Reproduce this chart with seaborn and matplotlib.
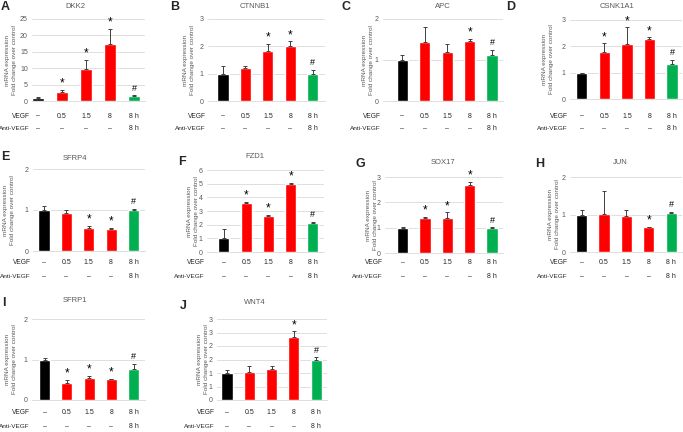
import matplotlib as mpl
mpl.use('Agg')

import matplotlib.pyplot as plt
import matplotlib.transforms as mtransforms
import seaborn as sns
import numpy as np

sns.set_style("white")
plt.rcParams['font.family'] = ['Liberation Sans', 'DejaVu Sans']

# data (fold change over control, upper error bar length)
panels = ['A', 'B', 'C', 'D', 'E', 'F', 'G', 'H', 'I', 'J']
genes = ['DKK2', 'CTNNB1', 'APC', 'CSNK1A1', 'SFRP4', 'FZD1', 'SOX17', 'JUN', 'SFRP1', 'WNT4']
conditions = ['ctrl', 'VEGF 0.5', 'VEGF 1.5', 'VEGF 8', 'VEGF+anti 8']

dkk2 = [1.0, 2.8, 9.8, 17.4, 1.5]
dkk2_err = [0.2, 0.6, 2.7, 4.6, 0.2]
ctnnb1 = [1.0, 1.2, 1.82, 2.0, 0.98]
ctnnb1_err = [0.28, 0.07, 0.26, 0.18, 0.17]
apc = [1.0, 1.43, 1.2, 1.46, 1.13]
apc_err = [0.11, 0.38, 0.18, 0.06, 0.12]
csnk1a1 = [1.0, 1.77, 2.07, 2.29, 1.32]
csnk1a1_err = [0.0, 0.34, 0.65, 0.05, 0.17]
sfrp4 = [1.0, 0.92, 0.56, 0.53, 0.99]
sfrp4_err = [0.1, 0.07, 0.06, 0.04, 0.04]
fzd1 = [1.0, 3.58, 2.66, 5.0, 2.15]
fzd1_err = [0.7, 0.08, 0.07, 0.05, 0.05]
sox17 = [1.0, 1.37, 1.39, 2.7, 0.99]
sox17_err = [0.03, 0.05, 0.21, 0.12, 0.02]
jun = [1.0, 1.02, 0.97, 0.66, 1.05]
jun_err = [0.11, 0.62, 0.16, 0.02, 0.03]
sfrp1 = [1.0, 0.42, 0.54, 0.51, 0.76]
sfrp1_err = [0.03, 0.07, 0.05, 0.02, 0.14]
wnt4 = [1.0, 1.04, 1.15, 2.32, 1.48]
wnt4_err = [0.1, 0.22, 0.11, 0.22, 0.1]

means = [dkk2, ctnnb1, apc, csnk1a1, sfrp4, fzd1, sox17, jun, sfrp1, wnt4]
errs = [dkk2_err, ctnnb1_err, apc_err, csnk1a1_err, sfrp4_err,
        fzd1_err, sox17_err, jun_err, sfrp1_err, wnt4_err]

sig = [['', '*', '*', '*', '#'],
       ['', '', '*', '*', '#'],
       ['', '', '', '*', '#'],
       ['', '*', '*', '*', '#'],
       ['', '', '*', '*', '#'],
       ['', '*', '*', '*', '#'],
       ['', '*', '*', '*', '#'],
       ['', '', '', '*', '#'],
       ['', '*', '*', '*', '#'],
       ['', '', '', '*', '#']]

y_max = [25, 3, 2, 3, 2, 6, 3, 2, 2, 3]
y_step = [5, 1, 1, 1, 1, 1, 1, 1, 1, 0.5]
wnt4_ticklabels = ['0', '1', '1', '2', '2', '3', '3']  # excel rounds to integers

vegf_labels = ['\u2013', '0.5', '1.5', '8', '8 h']
anti_labels = ['\u2013', '\u2013', '\u2013', '\u2013', '8 h']
bar_colors = ['#000000', '#FF0000', '#FF0000', '#FF0000', '#00B050']

# layout in pixels: plot area (left, right, top, bottom)
W, H = 683, 432
rects = [(32, 145, 19, 101), (208, 325, 19, 101), (383, 503, 19, 101), (570, 682, 20, 99),
         (33, 145, 169, 251), (207, 324, 170, 252), (385, 503, 177, 253), (570, 682, 177, 252),
         (32, 145, 319, 400), (217, 327, 319, 400)]
xlims = [(-0.25, 4.46), (-0.67, 4.55), (-0.86, 4.49), (-0.52, 4.44),
         (-0.49, 4.51), (-0.76, 4.5), (-0.79, 4.49), (-0.52, 4.48),
         (-0.57, 4.51), (-0.45, 4.49)]
title_pos = [(75, 6), (255, 6), (443, 6), (617, 6),
             (75, 158), (255, 157), (443, 163), (620, 163),
             (75, 300), (255, 303)]
letter_pos = [(1, 7), (170, 7), (341, 7), (506, 7),
              (1, 157), (178, 162), (355, 164), (535, 164),
              (2, 303), (180, 306)]
ylabel_x = [11, 189, 368, 548, 9, 193, 372, 554, 11, 203]
row_y = [(116, 129)] * 4 + [(263, 277)] * 4 + [(413, 427)] * 2

fig = plt.figure(figsize=(6.83, 4.32), dpi=100)

for i in range(10):
    l, r, t, b = rects[i]
    ax = fig.add_axes([l / W, 1 - b / H, (r - l) / W, (b - t) / H])
    sns.barplot(x=conditions, y=means[i], hue=conditions, palette=bar_colors,
                saturation=1, width=0.5, legend=False, ax=ax)
    x = np.arange(5)
    ax.errorbar(x, means[i], yerr=[np.zeros(5), errs[i]], fmt='none',
                ecolor='#404040', elinewidth=0.7, capsize=1.6, capthick=0.7)
    for j in range(5):
        if sig[i][j] == '*':
            ax.annotate('*', (j, means[i][j] + errs[i][j]), xytext=(0, 4.5),
                        textcoords='offset points', ha='center', va='center',
                        fontsize=8.5, color='black')
        elif sig[i][j] == '#':
            ax.annotate('#', (j, means[i][j] + errs[i][j]), xytext=(0, 5),
                        textcoords='offset points', ha='center', va='center',
                        fontsize=6.5, color='black')

    ax.set_xlim(*xlims[i])
    ax.set_ylim(0, y_max[i])
    ticks = np.arange(0, y_max[i] + y_step[i] / 2, y_step[i])
    ax.set_yticks(ticks)
    if genes[i] == 'WNT4':
        ax.set_yticklabels(wnt4_ticklabels)
    else:
        ax.set_yticklabels(['%g' % v for v in ticks])
    ax.set_xticks([])
    ax.set_xlabel('')
    ax.yaxis.grid(True, color='#D9D9D9', lw=0.6)
    ax.set_axisbelow(True)
    for s in ['top', 'right', 'left']:
        ax.spines[s].set_visible(False)
    ax.spines['bottom'].set_color('#D9D9D9')
    ax.spines['bottom'].set_linewidth(0.6)
    ax.tick_params(axis='y', length=0, labelsize=5, labelcolor='#595959', pad=3)

    ax.set_ylabel('mRNA expression\nFold change over control', fontsize=4.6,
                  color='#595959', va='center', linespacing=1.3)
    ax.yaxis.set_label_coords((ylabel_x[i] - l) / (r - l), 0.5)

    # condition rows under the bars
    trans = mtransforms.blended_transform_factory(ax.transData, fig.transFigure)
    y1, y2 = 1 - row_y[i][0] / H, 1 - row_y[i][1] / H
    for j in range(5):
        ax.text(j, y1, vegf_labels[j], transform=trans, ha='center', va='center',
                fontsize=5)
        ax.text(j, y2, anti_labels[j], transform=trans, ha='center', va='center',
                fontsize=5)
    fig.text((l - 2) / W, y1, 'VEGF', ha='right', va='center', fontsize=4.8)
    fig.text((l - 2) / W, y2, 'Anti-VEGF', ha='right', va='center', fontsize=4.6)

    fig.text(title_pos[i][0] / W, 1 - title_pos[i][1] / H, genes[i], ha='center',
             va='center', fontsize=5.5, color='#595959')
    fig.text(letter_pos[i][0] / W, 1 - letter_pos[i][1] / H, panels[i], ha='left',
             va='center', fontsize=9, fontweight='bold')

plt.savefig("out.png", dpi=100)
